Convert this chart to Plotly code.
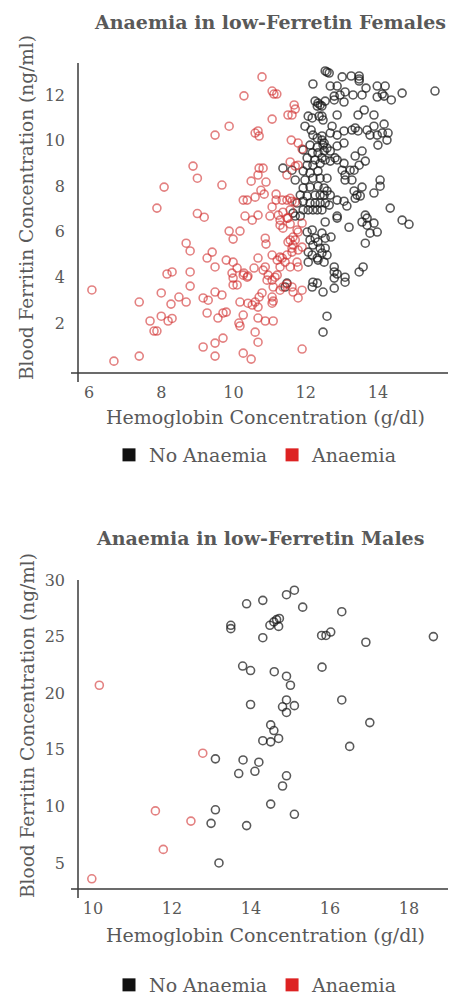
import plotly.graph_objects as go

# ---------------- data ----------------
female_anaemia_hb = [
    8.88, 9.0, 8.08, 7.88, 9.0,
    8.69, 8.8, 8.16, 8.3, 8.8, 8.8, 6.08, 8.0, 7.39, 8.49, 8.69, 8.27, 8.0, 8.3, 8.19, 7.69, 7.8, 7.88, 7.39, 6.69, 9.16, 9.16, 9.19,
    10.79, 10.29, 11.07, 11.12, 11.2, 11.68, 11.71, 11.51, 11.62, 11.07, 9.88, 9.49, 10.6, 10.68, 10.71, 11.6, 11.79, 11.9,
    11.57, 11.71, 11.79, 10.71, 10.82, 10.68, 9.68, 10.49, 10.9, 11.48, 10.27, 10.38, 10.6, 10.76, 10.85, 11.18, 11.18,
    11.57, 11.62, 11.71, 11.07, 11.35, 11.48, 10.32, 10.68, 11.01, 11.24,
    10.52, 11.29, 11.51, 9.88, 10.18, 9.99, 10.88, 10.9, 11.29, 11.37, 11.57, 11.71, 11.79, 11.9, 11.62, 11.79,
    9.41, 9.27, 9.49, 9.8, 9.99, 10.1, 10.29, 10.4, 10.57, 10.68, 10.88, 11.07, 11.21, 11.29, 11.43, 11.57, 11.76, 11.79,
    9.96, 9.99, 9.99, 10.1, 10.27, 10.38, 10.96, 11.07, 11.15, 11.29, 11.37, 11.48, 11.62, 11.65, 11.79, 11.9,
    9.3, 9.49, 9.68, 10.18, 10.4, 10.52, 10.6, 10.71, 10.79, 10.68, 11.07, 11.07, 11.1,
    9.27, 9.57, 9.71, 9.8, 10.27, 10.15, 10.18, 10.68, 10.88, 11.1, 10.6, 10.68,
    9.49, 9.71, 9.49, 10.27, 10.49, 11.9,
    10.82, 10.93, 11.1, 11.21, 11.29, 11.35, 11.48, 11.62, 11.65, 11.51, 11.65, 11.76, 11.9, 11.57, 11.48, 11.37, 11.57,
]
female_anaemia_fer = [
    8.88, 8.35, 7.96, 7.04, 6.8,
    5.5, 5.16, 4.15, 4.24, 4.24, 3.62, 3.45, 3.32, 2.92, 3.14, 2.92, 2.83, 2.3, 2.2, 2.09, 2.09, 1.65, 1.65, 0.55, 0.33, 3.1, 0.95, 6.64,
    12.79, 11.96, 12.17, 12.04, 12.04, 11.56, 11.38, 11.12, 11.12, 10.94, 10.63, 10.24, 10.33, 10.42, 10.2, 10.02, 9.89, 9.63,
    9.06, 8.88, 8.92, 8.79, 8.79, 8.49, 8.05, 8.22, 8.18, 8.49, 7.39, 7.39, 7.52, 7.82, 7.65, 7.65, 7.39,
    7.47, 7.34, 7.3, 7.09, 7.39, 7.39, 6.69, 6.73, 6.69, 6.73,
    6.51, 6.51, 6.6, 6.03, 6.03, 5.68, 5.72, 5.46, 6.29, 6.16, 5.64, 5.64, 5.99, 5.33, 5.28, 5.2,
    5.11, 4.85, 4.46, 4.76, 4.67, 4.41, 4.19, 4.06, 4.41, 4.85, 4.46, 4.98, 4.76, 4.89, 4.67, 4.46, 4.67, 4.46,
    4.19, 3.97, 3.67, 3.67, 4.1, 4.01, 4.1, 3.88, 4.01, 3.44, 3.58, 3.71, 3.58, 3.36, 3.1, 3.44,
    3.0, 3.36, 3.23, 2.92, 2.87, 2.79, 2.92, 3.14, 3.32, 2.7, 3.14, 2.87, 2.96,
    2.44, 2.22, 2.44, 2.48, 2.35, 2.0, 1.87, 2.22, 2.09, 2.09, 1.6, 1.16,
    1.12, 1.34, 0.55, 0.68, 0.42, 0.86,
    4.32, 3.88, 3.58, 4.1, 4.46, 4.85, 4.98, 5.11, 5.42, 5.55, 5.77, 6.08, 6.38, 6.34, 6.6, 6.86, 6.96,
]

female_normal_hb = [
    12.2, 12.54, 12.26, 12.34, 12.4, 12.32, 12.07, 12.18, 12.37, 12.48, 11.98, 12.15, 12.2, 12.32, 12.45, 12.12, 12.32, 12.48,
    11.93, 12.18, 12.34, 12.51, 12.04, 12.26, 12.45, 11.37, 11.62, 12.04, 12.2, 12.4, 11.93, 12.12, 12.34, 11.71, 11.98, 12.2,
    12.4, 11.93, 12.12, 12.34, 11.85, 12.04, 12.26, 12.4, 11.76, 11.93, 12.12, 12.26, 12.4, 11.93, 12.07, 12.2, 12.32, 12.45,
    11.85, 11.65, 11.71,
    12.59, 12.65, 13.01, 13.26, 13.48, 13.48, 13.48, 12.68, 12.87, 13.67, 13.98, 14.2, 14.67, 15.58, 12.79, 12.95, 13.09, 13.31,
    13.56, 13.98, 14.12, 14.17, 14.37, 12.54, 12.79, 13.06, 12.45, 12.87, 13.45, 13.62, 13.89, 12.45, 12.73, 13.37, 13.45, 13.7,
    13.89, 14.17, 14.28, 14.25, 14.0, 13.78, 13.98, 14.12, 12.68, 12.87, 13.06, 13.28, 12.45, 12.51, 12.59, 12.68, 13.06, 12.87,
    13.56, 13.37, 13.65, 12.81, 13.06, 12.87, 12.54, 12.68, 13.48, 13.01, 13.23, 13.34, 12.59, 13.09, 13.09, 13.28, 14.06, 14.06,
    13.56, 12.51, 12.59, 12.51, 12.68, 13.34, 13.42, 13.37, 13.51, 13.89, 12.87, 13.06, 13.14, 12.54, 12.65, 14.34, 13.65, 12.87,
    12.04, 12.18, 12.26, 12.12, 12.34, 12.45, 12.2, 12.4, 12.07, 12.18, 12.45, 12.32, 12.07, 12.34, 11.48, 11.43, 12.2, 12.32,
    12.18, 12.48, 12.48,
    12.54, 12.87, 13.2, 13.56, 13.7, 13.7, 13.89, 13.98, 13.78, 13.65, 14.67, 14.86, 12.54, 12.7, 12.54, 12.59, 12.51, 12.79,
    12.79, 12.87, 13.09, 13.09, 12.79, 12.79, 13.48, 13.59, 12.59,
]
female_normal_fer = [
    12.48, 13.05, 11.73, 11.64, 11.56, 11.51, 11.07, 10.99, 11.07, 10.9, 10.63, 10.46, 10.24, 10.11, 10.02, 9.8, 9.71, 9.8,
    9.59, 9.46, 9.46, 9.55, 9.24, 9.15, 9.24, 8.79, 8.7, 8.92, 8.92, 9.0, 8.66, 8.58, 8.66, 8.27, 8.27, 8.35,
    8.35, 7.92, 7.96, 8.0, 7.61, 7.57, 7.61, 7.61, 7.26, 7.34, 7.26, 7.26, 7.26, 6.96, 6.96, 6.96, 6.96, 6.96,
    6.69, 6.82, 6.69,
    13.0, 12.96, 12.79, 12.83, 12.83, 12.7, 12.61, 12.39, 12.39, 12.3, 12.39, 12.39, 12.08, 12.17, 11.95, 12.0, 12.13, 12.0,
    12.0, 11.91, 12.04, 11.95, 11.78, 11.73, 11.78, 11.69, 11.51, 11.12, 11.12, 11.34, 11.12, 11.07, 10.63, 10.55, 10.42, 10.46,
    10.63, 10.72, 10.33, 10.02, 9.8, 10.24, 10.24, 10.33, 10.33, 10.24, 10.42, 10.46, 10.2, 9.89, 9.67, 9.54, 9.89, 9.76,
    9.54, 9.32, 9.1, 9.24, 9.0, 9.15, 9.15, 9.1, 8.92, 8.7, 8.7, 8.7, 8.35, 8.49, 8.27, 8.27, 8.27, 8.0,
    7.96, 7.92, 7.79, 7.61, 7.61, 7.79, 7.61, 7.47, 7.57, 7.7, 7.39, 7.34, 7.13, 7.26, 7.17, 7.04, 6.73, 6.69,
    5.99, 6.08, 5.72, 5.64, 5.55, 5.94, 5.42, 5.28, 5.11, 4.98, 5.07, 4.85, 4.67, 4.76, 3.75, 3.58, 3.79, 3.75,
    3.58, 3.36, 1.6,
    6.43, 6.6, 6.2, 6.43, 6.6, 6.29, 6.38, 5.99, 5.94, 5.5, 6.51, 6.33, 5.72, 5.77, 5.28, 4.98, 4.67, 4.46,
    4.24, 4.15, 4.01, 3.79, 3.97, 3.53, 4.24, 4.46, 2.3,
]

male_anaemia_hb = [10.16, 12.78, 11.58, 12.48, 11.78, 9.97]
male_anaemia_fer = [20.7, 14.7, 9.6, 8.7, 6.2, 3.6]

male_normal_hb = [
    13.49, 13.49, 13.89, 14.3, 14.9, 15.1, 15.31, 16.3, 14.48, 14.58, 14.65, 14.72, 14.7, 14.3, 15.79, 15.9, 16.02,
    16.91, 18.62, 13.79, 13.99, 14.59, 14.9, 15.0, 15.8, 13.99, 14.9, 14.8, 14.9, 15.1, 16.3,
    17.01, 14.5, 14.58, 14.7, 14.3, 14.5, 16.5, 13.1, 13.8, 14.2, 14.1, 13.69, 14.9, 14.8, 14.5, 15.1, 13.1, 12.99,
    13.89, 13.19,
]
male_normal_fer = [
    26.0, 25.7, 27.9, 28.2, 28.7, 29.1, 27.6, 27.2, 26.0, 26.3, 26.5, 26.6, 25.9, 24.9, 25.1, 25.1, 25.4,
    24.5, 25.0, 22.4, 22.0, 21.9, 21.5, 20.7, 22.3, 19.0, 19.4, 18.8, 18.3, 18.9, 19.4,
    17.4, 17.2, 16.7, 16.0, 15.8, 15.7, 15.3, 14.2, 14.1, 13.9, 13.1, 12.9, 12.7, 11.8, 10.2, 9.3, 9.7, 8.5,
    8.3, 5.0,
]

series_names = ["No Anaemia", "Anaemia"]
titles = ["Anaemia in low-Ferretin Females", "Anaemia in low-Ferretin Males"]
x_title = "Hemoglobin Concentration (g/dl)"
y_title = "Blood Ferritin Concentration (ng/ml)"
top_x_ticks = [6, 8, 10, 12, 14]
top_y_ticks = [2, 4, 6, 8, 10, 12]
bot_x_ticks = [10, 12, 14, 16, 18]
bot_y_ticks = [5, 10, 15, 20, 25, 30]

# ---------------- style ----------------
W, H = 451, 996
FONT = "DejaVu Serif"
TXT = "#595959"
BLACK = "rgba(25,25,25,0.72)"
RED = "rgba(208,45,45,0.6)"
LEG_BLACK = "#111111"
LEG_RED = "#dd2222"


def px(x):
    return x / W


def py(y):
    return 1 - y / H


fig = go.Figure()


def add_scatter(xs, ys, color, xa, ya):
    fig.add_trace(go.Scatter(
        x=xs, y=ys, mode="markers", xaxis=xa, yaxis=ya, showlegend=False,
        marker=dict(symbol="circle-open", size=8, color=color, line=dict(width=1.6, color=color)),
        hoverinfo="x+y",
    ))


add_scatter(female_normal_hb, female_normal_fer, BLACK, "x", "y")
add_scatter(female_anaemia_hb, female_anaemia_fer, RED, "x", "y")
add_scatter(male_normal_hb, male_normal_fer, BLACK, "x2", "y2")
add_scatter(male_anaemia_hb, male_anaemia_fer, RED, "x2", "y2")

# legend-only entries (square swatches)
for leg, xa, ya in [("legend", "x", "y"), ("legend2", "x2", "y2")]:
    for name, col in zip(series_names, [LEG_BLACK, LEG_RED]):
        fig.add_trace(go.Scatter(
            x=[None], y=[None], mode="markers", name=name, legend=leg, xaxis=xa, yaxis=ya,
            marker=dict(symbol="square", size=13, color=col),
        ))

axis_common = dict(showgrid=False, zeroline=False, showline=False, ticks="", automargin=False,
                   tickfont=dict(family=FONT, size=16, color=TXT), fixedrange=True)

x_dom = [px(78), px(448)]
legend_common = dict(orientation="h", x=px(256), xanchor="center", yanchor="middle",
                     font=dict(family=FONT, size=19, color=TXT), itemclick=False,
                     itemdoubleclick=False)
fig.update_layout(
    width=W, height=H,
    margin=dict(l=0, r=0, t=0, b=0, autoexpand=False),
    paper_bgcolor="white", plot_bgcolor="white",
    font=dict(family=FONT, color=TXT),
    xaxis=dict(domain=x_dom, anchor="y", range=[5.695, 15.94], tickvals=top_x_ticks,
               ticklabelstandoff=8, **axis_common),
    yaxis=dict(domain=[py(373), py(63)], anchor="x", range=[-0.19, 13.4], tickvals=top_y_ticks,
               ticklabelstandoff=12, **axis_common),
    xaxis2=dict(domain=x_dom, anchor="y2", range=[9.62, 18.99], tickvals=bot_x_ticks,
                ticklabelstandoff=8, **axis_common),
    yaxis2=dict(domain=[py(889), py(580)], anchor="x2", range=[2.7, 30.0], tickvals=bot_y_ticks,
                ticklabelstandoff=12, **axis_common),
    legend=dict(y=py(455), **legend_common),
    legend2=dict(y=py(985), **legend_common),
)

# axis lines (crossing style)
line_style = dict(color="#3a3a3a", width=1.5)
for y_axis_px, top_px, bot_px in [(373, 63, 382), (889, 580, 898)]:
    fig.add_shape(type="line", xref="paper", yref="paper", x0=px(71), x1=px(448),
                  y0=py(y_axis_px), y1=py(y_axis_px), line=line_style)
    fig.add_shape(type="line", xref="paper", yref="paper", x0=px(78), x1=px(78),
                  y0=py(top_px), y1=py(bot_px), line=line_style)

# titles and axis titles
for title, ty, tx in [(titles[0], 22, 270), (titles[1], 538, 260)]:
    fig.add_annotation(text="<b>" + title + "</b>", xref="paper", yref="paper", x=px(tx), y=py(ty),
                       xanchor="center", yanchor="middle", showarrow=False,
                       font=dict(family=FONT, size=19, color=TXT))
for ay in [417, 935]:
    fig.add_annotation(text=x_title, xref="paper", yref="paper", x=px(265), y=py(ay),
                       xanchor="center", yanchor="middle", showarrow=False,
                       font=dict(family=FONT, size=19, color=TXT))
for ay in [208, 726]:
    fig.add_annotation(text=y_title, xref="paper", yref="paper", x=px(27), y=py(ay),
                       xanchor="center", yanchor="middle", showarrow=False, textangle=-90,
                       font=dict(family=FONT, size=18.5, color=TXT))

fig.write_html(
    "out.html",
    config={"displayModeBar": False},
    post_script="document.body.style.margin='0';document.body.style.overflow='hidden';",
)
